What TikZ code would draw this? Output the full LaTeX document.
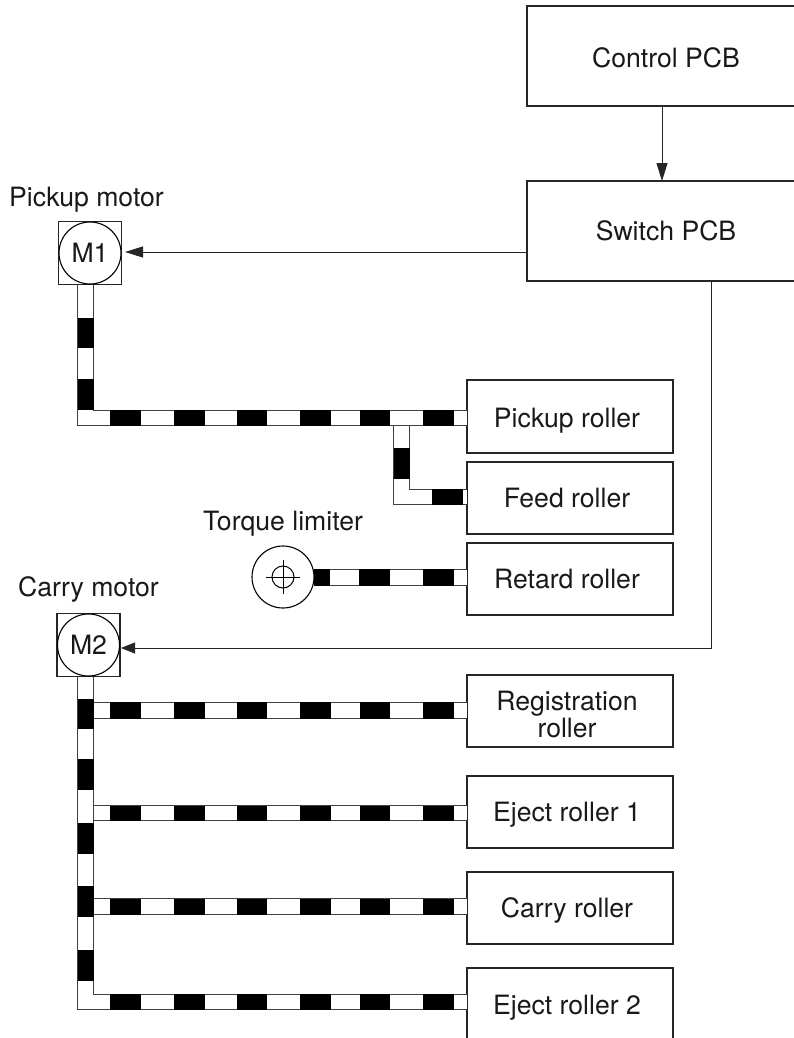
\documentclass[tikz,border=0pt]{standalone}
\usepackage{fontspec}
\setmainfont{TeX Gyre Heros}
\usetikzlibrary{arrows.meta}
\tikzset{
  lbl/.style={font=\fontsize{26.6}{27}\selectfont,align=center,inner sep=0pt,text=black!90},
  boxn/.style={draw=black!85,line width=1.2pt,fill=white,inner sep=0pt,outer sep=0pt,minimum width=#1},
  boxn/.default=206pt,
  motorbox/.style={draw=black!85,line width=1.1pt,fill=white,minimum size=63pt,inner sep=0pt,outer sep=0pt},
  round/.style={circle,draw=black,line width=1.1pt,minimum size=62pt,inner sep=0pt,outer sep=0pt},
  wire/.style={draw=black!85,line width=1pt,-{Triangle[length=18pt,width=11pt]}},
  shortwire/.style={draw=black!85,line width=1pt,-{Triangle[length=14pt,width=11pt]}},
  belt/.style={draw=black!75,line width=1.1pt,double=white,double distance=14.5pt,line join=miter},
  seg/.style={fill=black,draw=none},
}
\newcommand{\hsegs}[3]{\foreach \xa/\xb in {#3} \fill[seg] (\xa,#1) rectangle (\xb,#2);}
\newcommand{\vsegs}[3]{\foreach \ya/\yb in {#3} \fill[seg] (#1,\ya) rectangle (#2,\yb);}
\begin{document}
\begin{tikzpicture}[x=1pt,y=-1pt]
\useasboundingbox (0,0) rectangle (794,1038);
% PCBs
\node[boxn=278pt,minimum height=100pt,label={[lbl,yshift=-2pt]center:Control PCB}] (control) at (666,56) {};
\node[boxn=278pt,minimum height=100pt,lbl] (switch) at (666,231) {Switch PCB};
% Rollers
\node[boxn,minimum height=73pt,label={[lbl,xshift=-3pt,yshift=-4.5pt]center:Pickup roller}] (pickup) at (570,416.5) {};
\node[boxn,minimum height=72pt,label={[lbl,xshift=-3pt,yshift=0.5pt]center:Feed roller}] (feed) at (570,498) {};
\node[boxn,minimum height=72pt,label={[lbl,xshift=-3pt]center:Retard roller}] (retard) at (570,579) {};
\node[boxn,minimum height=72pt,label={[lbl,xshift=-3pt,yshift=-3pt]center:Registration\\roller}] (regist) at (570,711) {};
\node[boxn,minimum height=72pt,label={[lbl,xshift=-3pt,yshift=-3pt]center:Eject roller 1}] (ejecta) at (570,812) {};
\node[boxn,minimum height=72pt,label={[lbl,xshift=-3pt,yshift=-2pt]center:Carry roller}] (carry) at (570,908) {};
\node[boxn,minimum height=74pt,label={[lbl,xshift=-3pt,yshift=-3pt]center:Eject roller 2}] (ejectb) at (570,1005) {};
% Connector anchor points
\coordinate (beltA) at (85.5,284);
\coordinate (pickupin) at (467,418);
\coordinate (branchtop) at (401.5,426);
\coordinate (feedin) at (467,497);
\coordinate (retardin) at (467,577.5);
\coordinate (beltB) at (85.5,676);
\coordinate (regsrc) at (93,710.5);
\coordinate (regin) at (467,710.5);
\coordinate (ejasrc) at (93,813);
\coordinate (ejain) at (467,813);
\coordinate (carsrc) at (93,906.5);
\coordinate (carin) at (467,906.5);
\coordinate (ejbin) at (467,1002);
\coordinate (ctlout) at (662,106);
\coordinate (swin) at (662,181);
\coordinate (swleft) at (527,252);
\coordinate (m1in) at (125,252);
\coordinate (swbot) at (711,281);
\coordinate (m2in) at (121,648);
% Belts: M1
\draw[belt] (branchtop) |- (feedin);
\draw[belt] (beltA) |- (pickupin);
\vsegs{77.5}{93.5}{318/348,379/410}
\hsegs{410}{426}{110/141,174/205,237/267,300/331,360/390,423/454}
\vsegs{393.5}{409.5}{448/479}
\hsegs{489}{505}{432/463}
% Belts: M2
\draw[belt] (regsrc) -- (regin);
\draw[belt] (ejasrc) -- (ejain);
\draw[belt] (carsrc) -- (carin);
\draw[belt] (beltB) |- (ejbin);
\vsegs{78}{94}{699/729,759/790,823/854,886/917,950/981}
\foreach \ya/\yb in {702/719,805.5/820.5,898.5/914.5,994/1010}
  \hsegs{\ya}{\yb}{110/141,174/205,237/267,300/331,360/390,423/454}
% Motors
\node[motorbox] (mAbox) at (90,253) {};
\node[round,lbl] (mA) at (mAbox.center) {M1};
\node[motorbox] (mBbox) at (88.5,645) {};
\node[round,lbl] (mB) at (mBbox.center) {M2};
\node[lbl] (mAlabel) at (86.5,199.5) {Pickup motor};
\node[lbl] (mBlabel) at (88.5,589) {Carry motor};
% Torque limiter
\draw[belt] (314,577.5) -- (retardin);
\hsegs{569}{586}{314/330,359/390,423/454}
\node[round] (torque) at (283,577) {};
\node[circle,draw=black,line width=1pt,minimum size=22pt,inner sep=0pt] (hub) at (283,577) {};
\draw[line width=0.9pt] ([xshift=-17pt]hub.center) -- ([xshift=17pt]hub.center);
\draw[line width=0.9pt] ([yshift=-17pt]hub.center) -- ([yshift=17pt]hub.center);
\node[lbl] (tlabel) at (283,524) {Torque limiter};
% Signal wires
\draw[wire] (ctlout) -- (swin);
\draw[wire] (swleft) -- (m1in);
\draw[shortwire] (swbot) |- (m2in);
\end{tikzpicture}
\end{document}
